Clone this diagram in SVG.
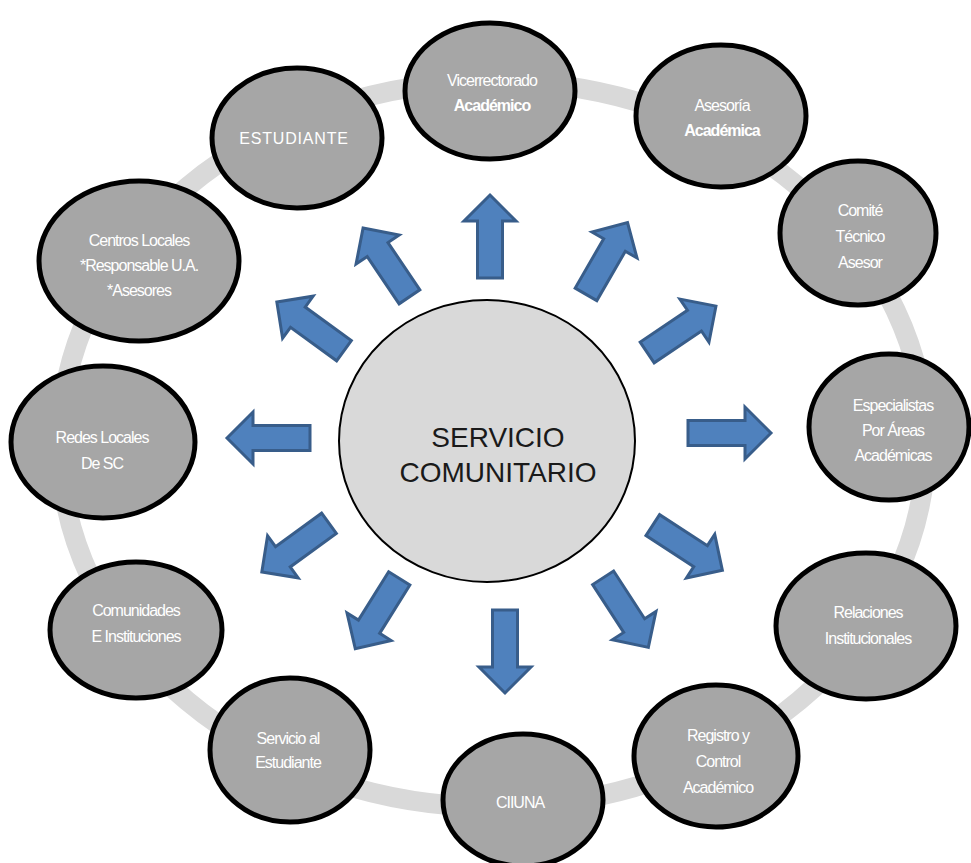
<svg xmlns="http://www.w3.org/2000/svg" width="971" height="863" viewBox="0 0 971 863">
<style>
.node{fill:#a6a6a6;stroke:#000;stroke-width:5}
.t{font-family:"Liberation Sans",Arial,sans-serif;font-size:16px;fill:#fff;text-anchor:middle;letter-spacing:-1px}
.b{font-weight:bold}
.arr{fill:#4f81bd;stroke:#385d8a;stroke-width:3;stroke-linejoin:miter}
.ctr{font-family:"Liberation Sans",Arial,sans-serif;font-size:28px;fill:#1a1a1a;text-anchor:middle}
</style>
<defs>
<path id="ar" d="M0,-41 L26,-15 L12.5,-15 L12.5,42 L-12.5,42 L-12.5,-15 L-26,-15 Z"/>
</defs>
<rect width="971" height="863" fill="#fff"/>
<ellipse id="ring" cx="493" cy="444" rx="433" ry="363" fill="none" stroke="#d9d9d9" stroke-width="20"/>
<g id="connectors">
<use href="#ar" class="arr" transform="translate(490,236)"/>
<use href="#ar" class="arr" transform="translate(607,258) rotate(30)"/>
<use href="#ar" class="arr" transform="translate(682,329) rotate(56)"/>
<use href="#ar" class="arr" transform="translate(730,433) rotate(90)"/>
<use href="#ar" class="arr" transform="translate(688,548) rotate(123)"/>
<use href="#ar" class="arr" transform="translate(626,613) rotate(147)"/>
<use href="#ar" class="arr" transform="translate(505,652) rotate(180)"/>
<use href="#ar" class="arr" transform="translate(377,614) rotate(212)"/>
<use href="#ar" class="arr" transform="translate(295,548) rotate(234)"/>
<use href="#ar" class="arr" transform="translate(268,438) rotate(270)"/>
<use href="#ar" class="arr" transform="translate(310,326) rotate(306)"/>
<use href="#ar" class="arr" transform="translate(386,262) rotate(326)"/>
</g>
<g id="center">
<ellipse cx="487" cy="441" rx="148" ry="141" fill="#d9d9d9" stroke="#000" stroke-width="2"/>
<text class="ctr" x="498" y="447">SERVICIO</text>
<text class="ctr" x="498" y="482">COMUNITARIO</text>
</g>
<g id="n-vicerrectorado">
<ellipse class="node" cx="490" cy="91" rx="85" ry="68"/>
<text class="t" x="492" y="86">Vicerrectorado</text>
<text class="t b" x="492" y="111">Académico</text>
</g>
<g id="n-asesoria">
<ellipse class="node" cx="721" cy="116" rx="85" ry="71"/>
<text class="t" x="722" y="111">Asesoría</text>
<text class="t b" x="722" y="136">Académica</text>
</g>
<g id="n-comite">
<ellipse class="node" cx="858" cy="233" rx="78" ry="72"/>
<text class="t" x="860" y="216">Comité</text>
<text class="t" x="860" y="242">Técnico</text>
<text class="t" x="860" y="268">Asesor</text>
</g>
<g id="n-especialistas">
<ellipse class="node" cx="889" cy="427" rx="80" ry="73"/>
<text class="t" x="893" y="411">Especialistas</text>
<text class="t" x="893" y="436">Por Áreas</text>
<text class="t" x="893" y="461">Académicas</text>
</g>
<g id="n-relaciones">
<ellipse class="node" cx="866" cy="626" rx="90" ry="73"/>
<text class="t" x="868" y="618">Relaciones</text>
<text class="t" x="868" y="644">Institucionales</text>
</g>
<g id="n-registro">
<ellipse class="node" cx="716" cy="756" rx="82" ry="71"/>
<text class="t" x="718" y="741">Registro y</text>
<text class="t" x="718" y="767">Control</text>
<text class="t" x="718" y="793">Académico</text>
</g>
<g id="n-ciiuna">
<ellipse class="node" cx="523" cy="800" rx="80" ry="66"/>
<text class="t" x="520" y="808">CIIUNA</text>
</g>
<g id="n-servicio">
<ellipse class="node" cx="290" cy="750" rx="80" ry="72"/>
<text class="t" x="288" y="744">Servicio al</text>
<text class="t" x="288" y="768">Estudiante</text>
</g>
<g id="n-comunidades">
<ellipse class="node" cx="136" cy="630" rx="86" ry="68"/>
<text class="t" x="136" y="616">Comunidades</text>
<text class="t" x="136" y="642">E Instituciones</text>
</g>
<g id="n-redes">
<ellipse class="node" cx="103" cy="442" rx="92" ry="76"/>
<text class="t" x="102" y="443">Redes Locales</text>
<text class="t" x="102" y="469">De SC</text>
</g>
<g id="n-centros">
<ellipse class="node" cx="139" cy="261" rx="100" ry="80"/>
<text class="t" x="139" y="246">Centros Locales</text>
<text class="t" x="139" y="271">*Responsable U.A.</text>
<text class="t" x="139" y="296">*Asesores</text>
</g>
<g id="n-estudiante">
<ellipse class="node" cx="297" cy="138" rx="85" ry="70"/>
<text class="t" x="294" y="144" style="letter-spacing:0.8px">ESTUDIANTE</text>
</g>
</svg>
